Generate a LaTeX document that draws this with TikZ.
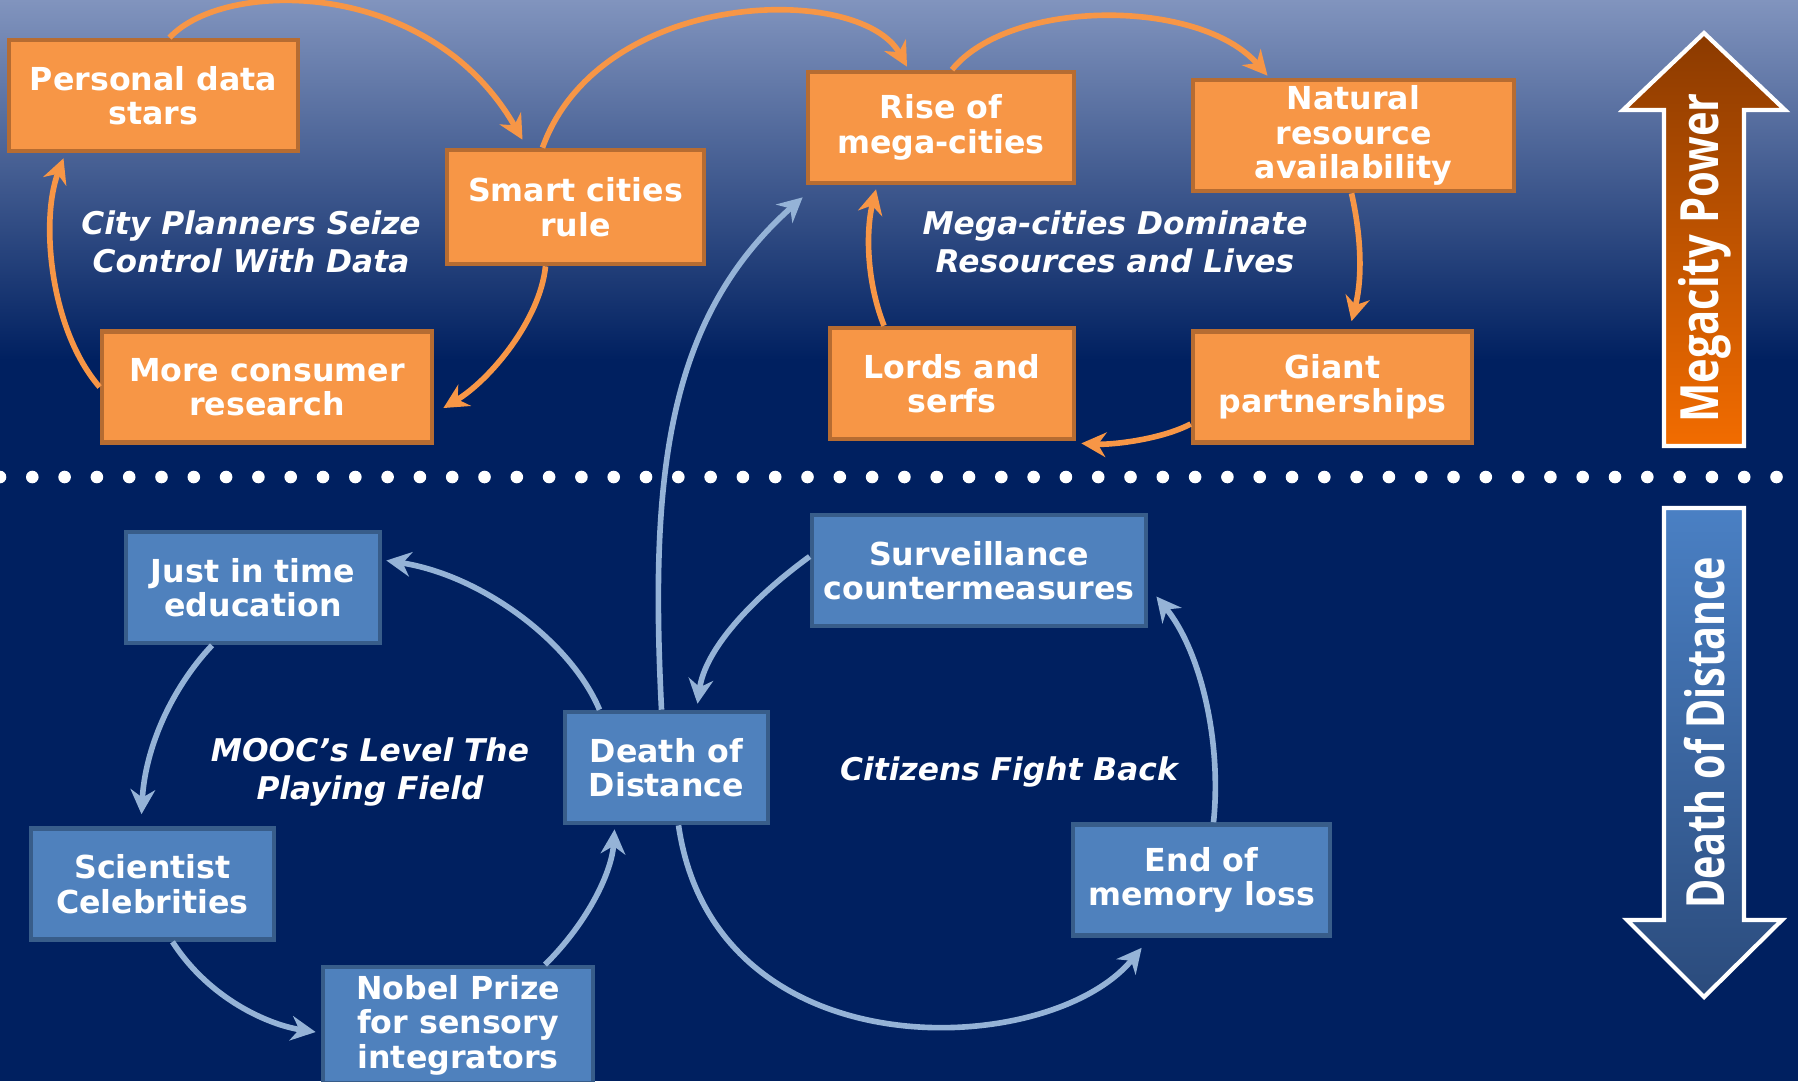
\documentclass[tikz,border=0pt]{standalone}
\usepackage{fontspec}
\setmainfont{DejaVu Sans}
\newfontfamily\powerfont{Open Sans}
\usepackage{graphicx}
\usetikzlibrary{arrows.meta}
\definecolor{navy}{RGB}{0,32,96}
\definecolor{skytop}{RGB}{129,148,190}
\definecolor{skymid}{RGB}{62,88,146}
\definecolor{orfill}{RGB}{247,150,70}
\definecolor{ordraw}{RGB}{182,108,50}
\definecolor{blfill}{RGB}{79,129,189}
\definecolor{bldraw}{RGB}{56,93,138}
\definecolor{blline}{RGB}{149,179,215}
\definecolor{powtop}{RGB}{139,58,0}
\definecolor{powbot}{RGB}{242,108,0}
\definecolor{distop}{RGB}{74,128,196}
\definecolor{disbot}{RGB}{43,75,124}

\begin{document}
\begin{tikzpicture}[x=0.01cm, y=-0.01cm, line width = 1.6pt,
	orbox/.style={draw=ordraw, fill=orfill, line width=1.3pt, text=white, font=\bfseries\fontsize{9}{9.8}\selectfont, align=center, minimum height=1.11cm, inner sep=0pt},
	blbox/.style={orbox, draw=bldraw, fill=blfill},
	orline/.style={draw=orfill, -{Stealth[length=7pt,width=7pt]}},
	blline/.style={orline, draw=blline},
	theme/.style={text=white, font=\bfseries\itshape\fontsize{8.9}{10.8}\selectfont, align=center},
	bigarrow/.style={draw=white, line width=1.2pt}]
			\clip (0,0) rectangle (1798,1081);
			\useasboundingbox (0,0) rectangle (1798,1081);
			\shade[top color=skytop, middle color=skymid, bottom color=navy] (0,0) rectangle (1798,360);
			\fill[navy] (0,359) rectangle (1798,1081);
			\foreach \k in {0,...,55}
				\fill[white] (32.3*\k,477) circle (6.3);
			\shade[bigarrow, top color=powtop, bottom color=powbot] (1664,446) -- (1664,110) -- (1623,110) -- (1704,33) -- (1785,110) -- (1744,110) -- (1744,446) -- cycle;
			\shade[bigarrow, top color=distop, bottom color=disbot] (1664,508) -- (1744,508) -- (1744,920) -- (1782,920) -- (1704,997) -- (1627,920) -- (1664,920) -- cycle;
			\node[rotate=90, text=white] (mpower) at (1705,258) {\powerfont\bfseries\fontsize{15}{15}\selectfont\scalebox{0.79}[1]{Megacity Power}};
			\node[rotate=90, text=white] (ddist) at (1705,733) {\powerfont\bfseries\fontsize{15}{15}\selectfont\scalebox{0.75}[1]{Death of Distance}};
			\node[orbox, minimum width=2.89cm] (pds) at (153.5,95.5) {Personal data\\stars};
			\node[orbox, minimum width=2.57cm, minimum height=1.14cm] (smart) at (575.5,207) {Smart cities\\rule};
			\node[orbox, minimum width=3.30cm] (consumer) at (267,387) {More consumer\\research};
			\node[orbox, minimum width=2.66cm] (rise) at (941,127.5) {Rise of\\mega-cities};
			\node[orbox, minimum width=3.21cm] (natural) at (1353.5,135.5) {Natural\\resource\\availability};
			\node[orbox, minimum width=2.44cm] (lords) at (952,383.5) {Lords and\\serfs};
			\node[orbox, minimum width=2.79cm] (giant) at (1332.5,387) {Giant\\partnerships};
			\node[blbox, minimum width=2.54cm] (jit) at (253,587.5) {Just in time\\education};
			\node[blbox, minimum width=2.43cm] (sci) at (152.5,884) {Scientist\\Celebrities};
			\node[blbox, minimum width=2.70cm, minimum height=1.16cm] (nobel) at (458,1025) {Nobel Prize\\for sensory\\integrators};
			\node[blbox, minimum width=2.03cm] (dod) at (666.5,767.5) {Death of\\Distance};
			\node[blbox, minimum width=3.34cm] (surv) at (979,570.5) {Surveillance\\countermeasures};
			\node[blbox, minimum width=2.57cm] (memory) at (1201.5,880) {End of\\memory loss};
			\node[theme] (cityplan) at (251,242) {City Planners Seize\\Control With Data};
			\node[theme] (megadom) at (1115,242) {Mega-cities Dominate\\Resources and Lives};
			\node[theme] (mooc) at (370,772) {MOOC’s Level The\\Playing Field};
			\node[theme] (citizens) at (1009,772) {Citizens Fight Back};
			\draw[orline] ([shift={(16,0)}]pds.north) .. controls (225,-22) and (430,-22) .. ([shift={(-53,-8)}]smart.north);
			\draw[orline] ([shift={(-33,0)}]smart.north) .. controls (600,-12) and (860,-18) .. ([shift={(-34,-3)}]rise.north);
			\draw[orline] ([shift={(11,0)}]rise.north) .. controls (1010,-2) and (1200,-2) .. ([shift={(-86,-2)}]natural.north);
			\draw[orline] ([shift={(-2,0)}]natural.south) .. controls (1362,240) and (1362,280) .. ([shift={(19,-8)}]giant.north);
			\draw[orline] ([shift={(0,37)}]giant.west) .. controls (1160,440) and (1110,445) .. ([shift={(5,2)}]lords.south east);
			\draw[orline] ([shift={(-68,0)}]lords.north) .. controls (866,280) and (866,230) .. ([shift={(-65,4)}]rise.south);
			\draw[orline] ([shift={(-30,0)}]smart.south) .. controls (540,320) and (490,380) .. ([shift={(9,21)}]consumer.east);
			\draw[orline] (consumer.west) .. controls (50,330) and (40,220) .. ([shift={(-90,5)}]pds.south);
			\draw[blline] ([shift={(-5,0)}]dod.north) .. controls (650,480) and (665,320) .. ([shift={(-3,12)}]rise.south west);
			\draw[blline] ([shift={(-67,0)}]dod.north) .. controls (570,640) and (480,575) .. ([shift={(4,-27)}]jit.east);
			\draw[blline] ([shift={(-41,0)}]jit.south) .. controls (170,690) and (145,750) .. ([shift={(-11,-12)}]sci.north);
			\draw[blline] ([shift={(20,0)}]sci.south) .. controls (210,1000) and (270,1025) .. ([shift={(-5,7)}]nobel.west);
			\draw[blline] ([shift={(87,0)}]nobel.north) .. controls (590,920) and (612,870) .. ([shift={(-52,4)}]dod.south);
			\draw[blline] ([shift={(0,-14)}]surv.west) .. controls (750,600) and (705,650) .. ([shift={(31,-6)}]dod.north);
			\draw[blline] ([shift={(12,0)}]dod.south) .. controls (715,1075) and (1050,1060) .. ([shift={(71,10)}]memory.south west);
			\draw[blline] ([shift={(12,0)}]memory.north) .. controls (1222,740) and (1200,650) .. ([shift={(8,26)}]surv.east);
\end{tikzpicture}
\end{document}
